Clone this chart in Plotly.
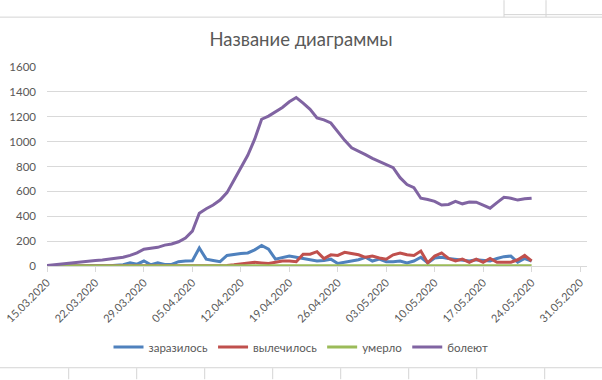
import plotly.graph_objects as go
import pandas as pd

start_date = "2020-03-15"

zarazilos = [0, 1, 2, 3, 3, 5, 5, 5, 3, 2, 5, 10, 25, 15, 40, 10, 25, 12, 12, 35,
             40, 42, 145, 55, 45, 35, 85, 95, 100, 105, 130, 165, 135, 55, 65, 80,
             70, 60, 50, 40, 45, 55, 20, 30, 35, 50, 70, 40, 55, 35, 35, 40, 25,
             40, 70, 25, 65, 70, 60, 55, 45, 40, 50, 45, 40, 60, 75, 80, 30, 60, 40]
vylechilos = [0, 0, 0, 0, 0, 0, 0, 0, 0, 0, 0, 0, 0, 0, 0, 0, 0, 0, 0, 0,
              0, 0, 2, 3, 3, 3, 5, 10, 15, 20, 30, 25, 20, 30, 40, 40,
              35, 95, 95, 115, 60, 90, 85, 110, 100, 90, 70, 80, 65, 55, 90, 105, 90,
              85, 120, 25, 80, 105, 60, 40, 55, 30, 55, 30, 60, 30, 30, 30, 50, 85, 40]
umerlo = [0, 0, 0, 0, 0, 0, 0, 0, 0, 0, 0, 0, 0, 0, 0, 0, 0, 1, 1, 1,
          1, 1, 1, 1, 1, 1, 1, 2, 2, 2, 2, 2, 2, 2, 2, 2,
          2, 2, 2, 2, 2, 2, 2, 2, 3, 3, 3, 3, 3, 3, 3, 3, 3,
          3, 3, 3, 3, 3, 3, 3, 3, 3, 3, 3, 3, 3, 3, 3, 3, 3, 3]
boleyut = [4, 10, 18, 25, 32, 38, 42, 44, 48, 55, 62, 70, 85, 105, 135, 140, 150, 168, 177, 195,
           225, 280, 425, 460, 490, 530, 590, 690, 785, 890, 1020, 1180, 1205, 1240, 1275, 1320,
           1355, 1310, 1260, 1190, 1175, 1150, 1080, 1010, 950, 925, 895, 865, 840, 820, 790, 710, 655,
           630, 545, 535, 520, 490, 495, 520, 500, 515, 513, 490, 465, 510, 553, 545, 530, 540, 545]

series_names = ["заразилось", "вылечилось", "умерло", "болеют"]
series_colors = ["#4F81BD", "#C0504D", "#9BBB59", "#8064A2"]

tick_labels = ["15.03.2020", "22.03.2020", "29.03.2020", "05.04.2020", "12.04.2020",
               "19.04.2020", "26.04.2020", "03.05.2020", "10.05.2020", "17.05.2020",
               "24.05.2020", "31.05.2020"]

dates = pd.date_range(start_date, periods=len(boleyut), freq="D")
tick_vals = [pd.to_datetime(t, format="%d.%m.%Y") for t in tick_labels]

FONT = "Lato, Carlito, Calibri, sans-serif"
GRAY = "#595959"
GRID = "#D9D9D9"
CELL = "#D4D4D4"

fig = go.Figure()
for name, vals, col in zip(series_names, [zarazilos, vylechilos, umerlo, boleyut], series_colors):
    fig.add_trace(go.Scatter(x=dates, y=vals, mode="lines", name=name,
                             line=dict(color=col, width=3), cliponaxis=False))

W, H = 602, 380
L, R, T, B = 47, 15, 67, 113.5

def px2paper_x(X):
    return (X - L) / (W - L - R)

def px2paper_y(Y):
    return (H - B - Y) / (H - T - B)

def seg(x0, y0, x1, y1):
    return dict(type="line", xref="paper", yref="paper",
                x0=px2paper_x(x0), x1=px2paper_x(x1),
                y0=px2paper_y(y0), y1=px2paper_y(y1),
                line=dict(color=CELL, width=1))

shapes = [seg(0, 17, 602, 17), seg(0, 368.5, 602, 368.5), seg(504, 14.5, 602, 14.5)]
for X in [504, 546]:
    shapes.append(seg(X, 0, X, 17))
for X in [68.7, 136.7, 204.7, 272.7, 340.7, 408.7, 476.7, 544.7]:
    shapes.append(seg(X, 369, X, 380))

fig.update_layout(
    width=W, height=H,
    margin=dict(l=L, r=R, t=T, b=B, autoexpand=False),
    paper_bgcolor="white", plot_bgcolor="white",
    font=dict(family=FONT, color=GRAY, size=11),
    title=dict(text="Название диаграммы", x=0.5, xref="container", xanchor="center",
               y=1 - 40 / H, yanchor="middle", automargin=False,
               font=dict(size=18.5, color=GRAY, family=FONT)),
    xaxis=dict(range=[pd.Timestamp("2020-03-15"), pd.Timestamp("2020-06-01")],
               tickvals=tick_vals, ticktext=tick_labels, tickangle=-45,
               showgrid=False, showline=True, linecolor=GRID, linewidth=1,
               ticks="outside", ticklen=5, tickcolor=GRID, automargin=False,
               tickfont=dict(size=11, color=GRAY), zeroline=False),
    yaxis=dict(range=[0, 1600], dtick=200, showgrid=True, gridcolor=GRID, gridwidth=1,
               showline=False, zeroline=False, ticks="", ticklabelstandoff=10,
               automargin=False, tickfont=dict(size=11.5, color=GRAY)),
    legend=dict(orientation="h", xref="container", x=0.5, xanchor="center",
                yref="container", y=1 - 347 / H, yanchor="middle",
                itemwidth=30, font=dict(size=11.5, color=GRAY), bgcolor="rgba(0,0,0,0)"),
    shapes=shapes,
    showlegend=True,
)

fig.write_html("out.html", config={"displayModeBar": False},
               post_script="document.body.style.margin='0px';document.body.style.overflow='hidden';")
